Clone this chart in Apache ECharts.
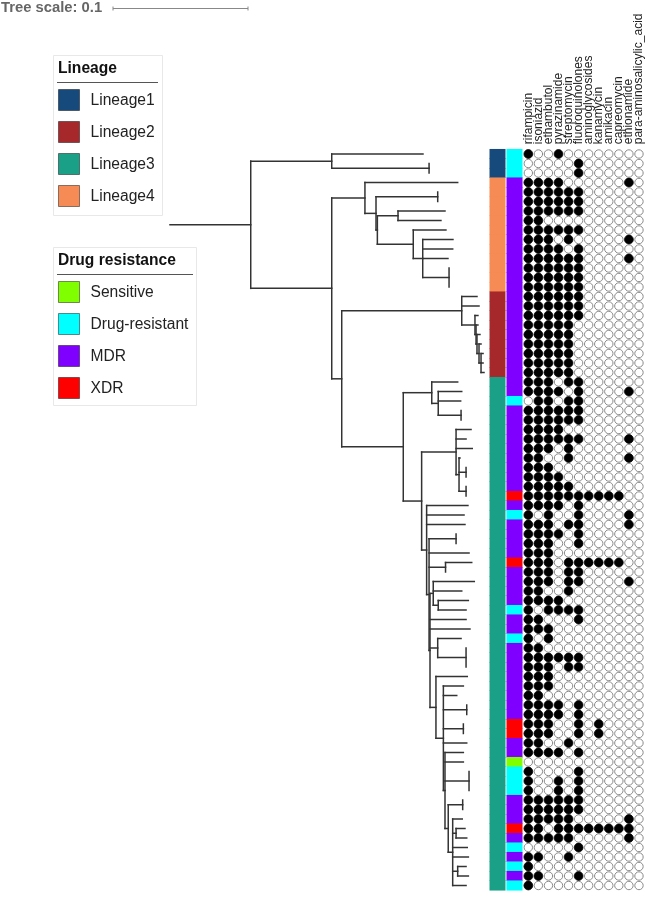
<!DOCTYPE html>
<html><head><meta charset="utf-8">
<script src="https://cdn.jsdelivr.net/npm/echarts@6/dist/echarts.min.js"></script>
<style>html,body{margin:0;padding:0;background:#fff}#c{width:647px;height:918px}</style>
</head><body><div id="c"></div>
<script>
// ---------------- DATA ----------------
const drugs = ['rifampicin','isoniazid','ethambutol','pyrazinamide','streptomycin','fluoroquinolones',
  'aminoglycosides','kanamycin','amikacin','capreomycin','ethionamide','para-aminosalicylic_acid'];

// one string per isolate (tree order), one character per drug: 1 = resistant
const resistanceMatrix = [
  '100100000000','000001000000','000001000000','111100000010','111111000000','111111000000',
  '111111000000','110000000000','111111000000','111010000010','111101000000','111111000010',
  '111111000000','111111000000','111111000000','111111000000','111111000000','111111000000',
  '111110000000','111110000000','111110000000','111110000000','111110000000','111110000000',
  '111011000000','111101000010','011011000000','111111000000','111111000000','111100000000',
  '111111000010','111010000000','110010000010','111000000000','111100000000','111110000000',
  '111111111100','111101000000','101001000010','111011000010','111101000000','111001000000',
  '111000000000','111011111100','111011000000','111011000010','110010000000','111100000000',
  '101111000000','110001000000','111000000000','101000000000','110000000000','111111000000',
  '111011000000','111000000000','111000000000','110000000000','111101000000','111101000000',
  '111001010000','111001010000','110010000000','111101000000','000000000000','100001000000',
  '100101000000','100101000000','111111000000','111111000000','111110000010','110111111110',
  '111110000010','000001000000','110010000000','100000000000','110001000000','100000000000'
];

// lineage per isolate (1..4), tree order
const lineageByRow = '111' + '444444444444' + '222222222' +
  '3333333333' + '3333333333' + '3333333333' + '3333333333' + '3333333333' + '3333';
// drug-resistance class per isolate: S sensitive, D drug-resistant, M MDR, X XDR
const resistanceByRow = 'DDD' + 'MMMMMMMMMMMMMMMMMMMMMMM' + 'D' + 'MMMMMMMMM' + 'X' + 'M' + 'D' +
  'MMMM' + 'X' + 'MMMM' + 'D' + 'MM' + 'D' + 'MMMMMMMM' + 'XX' + 'MM' + 'S' + 'DDD' + 'MMM' +
  'X' + 'M' + 'D' + 'M' + 'D' + 'M' + 'D';

const lineageNames = ['Lineage1','Lineage2','Lineage3','Lineage4'];
const lineageColors = ['#174a7c','#a7282b','#1ba088','#f68b55'];
const resistNames = ['Sensitive','Drug-resistant','MDR','XDR'];
const resistCodes = ['S','D','M','X'];
const resistColors = ['#7fff00','#00ffff','#8000ff','#ff0000'];

// phylogeny: internal node = [depth, ...children], leaf = depth (substitutions/site from root)
const cladeL1 = [0.1198, 0.1874, [0.1919, 0.1919, 0.1919]];
const cladeL4 = [0.1444, 0.2131,
  [0.1526, [0.1983, 0.1983, 0.1983],
    [0.1536, [0.1689, 0.2037, 0.2007],
      [0.1802, 0.2044, [0.1872, 0.2096, 0.2094, 0.2059, [0.2067, 0.2067, 0.2067, 0.2067]]]]]];
const cladeL2 = [0.2161, 0.2274, 0.2289,
  [0.2259, 0.2281, [0.2267, 0.2281, [0.2274, 0.2296, [0.2289, 0.2304, [0.2304, 0.2319, 0.2319, 0.2326]]]]]];
const cladeL3a = [0.1939, 0.2131, [0.1987, 0.2161, 0.2153, [0.2156, 0.2156, 0.2156]]];
const cladeL3b = [0.2119, 0.2230, 0.2193, 0.2239,
  [0.2141, 0.2148, [0.2193, 0.2193, 0.2193], [0.2193, 0.2193, 0.2193]]];
const combN8 = [0.2094, 0.2165, [0.2119, 0.2185, 0.2198], 0.2202, 0.2210, [0.2131, 0.2193, 0.2210], 0.2193];
const combN7 = [0.2061, [0.2168, 0.2168, 0.2168], combN8];
const combN6 = [0.2037, 0.2173, 0.2173, [0.2215, 0.2215, 0.2215, 0.2215], combN7];
const combN5 = [0.2025, 0.2173, 0.2124, [0.2198, 0.2198, 0.2198], [0.2173, 0.2173, 0.2173], 0.2198, combN6];
const combN4 = [0.1970, 0.2202, combN5];
const combN3 = [0.1926, [0.1950, 0.2254, 0.2161, [0.1987, 0.2210, 0.2193]], 0.2193, 0.2222,
  [0.1983, 0.2156, [0.2193, 0.2193, 0.2193, 0.2193]], combN4];
const combN2 = [0.1919, [0.2119, 0.2119, 0.2119], 0.2215, [0.2041, 0.2235, 0.2041], combN3];
const combN1 = [0.1901, 0.2207, 0.2178, 0.2185, combN2];
const cladeL3 = [0.1728, cladeL3a, [0.1864, cladeL3b, combN1]];
const phyloTree = [0, [0.0598, cladeL1, [0.1198, cladeL4, [0.1272, cladeL2, cladeL3]]]];
const treeScale = 0.1;

// ---------------- BUILD ----------------
const N = resistanceMatrix.length;
let leafIdx = 0;
const segs = [];
function layoutTree(node) {
  if (typeof node === 'number') return { d: node, y: leafIdx++ };
  const d = node[0];
  const kids = node.slice(1).map(layoutTree);
  const y0 = kids[0].y, y1 = kids[kids.length - 1].y;
  segs.push([d, y0, d, y1]);
  kids.forEach(k => segs.push([d, k.y, k.d, k.y]));
  return { d, y: (y0 + y1) / 2 };
}
layoutTree(phyloTree);

const stripData = [];
for (let i = 0; i < N; i++) {
  stripData.push([0, i, parseInt(lineageByRow[i], 10) - 1]);
  stripData.push([1, i, resistCodes.indexOf(resistanceByRow[i])]);
}
const filledPts = [], emptyPts = [];
resistanceMatrix.forEach((row, i) => {
  for (let j = 0; j < drugs.length; j++) (row[j] === '1' ? filledPts : emptyPts).push([j, i]);
});

const FONT = '"Liberation Sans", Arial, sans-serif';
const rowH = 9.5, gridTop = 149.25, gridH = N * rowH;

const yAx = gi => ({ type: 'value', gridIndex: gi, min: -0.5, max: N - 0.5, inverse: true, show: false });

const chart = echarts.init(document.getElementById('c'), null, { renderer: 'canvas' });
chart.setOption({
  animation: false,
  backgroundColor: '#fff',
  grid: [
    { left: 170, top: gridTop, width: 324, height: gridH, outerBoundsMode: 'none' },
    { left: 489, top: gridTop, width: 34, height: gridH, outerBoundsMode: 'none' },
    { left: 523.3, top: gridTop, width: 120.7, height: gridH, outerBoundsMode: 'none' }
  ],
  xAxis: [
    { type: 'value', gridIndex: 0, min: 0, max: 0.24, show: false },
    { type: 'category', gridIndex: 1, data: ['Lineage', 'Drug resistance'], show: false },
    { type: 'category', gridIndex: 2, data: drugs, position: 'top',
      axisLine: { show: false }, axisTick: { show: false }, splitLine: { show: false },
      axisLabel: { rotate: 90, margin: 5, fontSize: 12, color: '#222', fontFamily: FONT, interval: 0 } }
  ],
  yAxis: [yAx(0), yAx(1), yAx(2)],
  series: [
    { type: 'custom', xAxisIndex: 0, yAxisIndex: 0, silent: true, clip: false,
      encode: { x: [0, 2], y: [1, 3] }, data: segs,
      renderItem: (p, api) => {
        const a = api.coord([api.value(0), api.value(1)]);
        const b = api.coord([api.value(2), api.value(3)]);
        return { type: 'line', shape: { x1: a[0], y1: a[1], x2: b[0], y2: b[1] },
          style: { stroke: '#333', lineWidth: 1.5, lineCap: 'square' } };
      } },
    { type: 'custom', xAxisIndex: 1, yAxisIndex: 1, silent: true,
      encode: { x: 0, y: 1 }, data: stripData,
      renderItem: (p, api) => {
        const c = api.coord([api.value(0), api.value(1)]);
        const s = api.size([1, 1]);
        const col = api.value(0) === 0 ? lineageColors[api.value(2)] : resistColors[api.value(2)];
        return { type: 'rect', shape: { x: c[0] - s[0] / 2 + 0.5, y: c[1] - s[1] / 2 - 0.3, width: s[0] - 1, height: s[1] + 0.6 },
          style: { fill: col } };
      } },
    { type: 'scatter', xAxisIndex: 2, yAxisIndex: 2, silent: true, data: emptyPts, symbolSize: 8.4,
      itemStyle: { color: '#fff', borderColor: '#8a8a8a', borderWidth: 1, opacity: 1 } },
    { type: 'scatter', xAxisIndex: 2, yAxisIndex: 2, silent: true, data: filledPts, symbolSize: 8.8,
      itemStyle: { color: '#000', borderColor: '#000', borderWidth: 0.8, opacity: 1 } }
  ]
});

// ---------------- LEGENDS + SCALE BAR ----------------
const gfx = [];
function legendBlock(title, names, colors, x, y, w, h, lineW) {
  gfx.push({ type: 'rect', shape: { x: x + 0.5, y: y + 0.5, width: w, height: h }, style: { fill: '#fff', stroke: '#e8e8e8', lineWidth: 1 }, z: 10 });
  gfx.push({ type: 'text', x: x + 5, y: y + 14, style: { text: title, fontFamily: FONT, fontSize: 15.6, fontWeight: 'bold', fill: '#111', verticalAlign: 'middle' }, z: 11 });
  gfx.push({ type: 'line', shape: { x1: x + 4, y1: y + 27.5, x2: x + 4 + lineW, y2: y + 27.5 }, style: { stroke: '#555', lineWidth: 1 }, z: 11 });
  names.forEach((n, k) => {
    gfx.push({ type: 'rect', shape: { x: x + 5.5, y: y + 34.5 + 32 * k, width: 21, height: 21 }, style: { fill: colors[k], stroke: 'rgba(0,0,0,0.45)', lineWidth: 1 }, z: 11 });
    gfx.push({ type: 'text', x: x + 37.5, y: y + 45.5 + 32 * k, style: { text: n, fontFamily: FONT, fontSize: 15.6, fill: '#222', verticalAlign: 'middle' }, z: 11 });
  });
}
legendBlock('Lineage', lineageNames, lineageColors, 53, 55, 109, 160, 101);
legendBlock('Drug resistance', resistNames, resistColors, 53, 247, 143, 158, 136);

const p0 = chart.convertToPixel({ xAxisIndex: 0, yAxisIndex: 0 }, [0, 0]);
const p1 = chart.convertToPixel({ xAxisIndex: 0, yAxisIndex: 0 }, [treeScale, 0]);
const barLen = p1[0] - p0[0];
const bx = 113, by = 8.5;
gfx.push({ type: 'text', x: 1, y: 8, style: { text: 'Tree scale: ' + treeScale, fontFamily: FONT, fontSize: 14.8, fontWeight: 'bold', fill: '#666', verticalAlign: 'middle' } });
gfx.push({ type: 'line', shape: { x1: bx, y1: by, x2: bx + barLen, y2: by }, style: { stroke: '#888', lineWidth: 1 } });
gfx.push({ type: 'line', shape: { x1: bx, y1: by - 2, x2: bx, y2: by + 2 }, style: { stroke: '#888', lineWidth: 1 } });
gfx.push({ type: 'line', shape: { x1: bx + barLen, y1: by - 2, x2: bx + barLen, y2: by + 2 }, style: { stroke: '#888', lineWidth: 1 } });
chart.setOption({ graphic: gfx });
</script></body></html>
